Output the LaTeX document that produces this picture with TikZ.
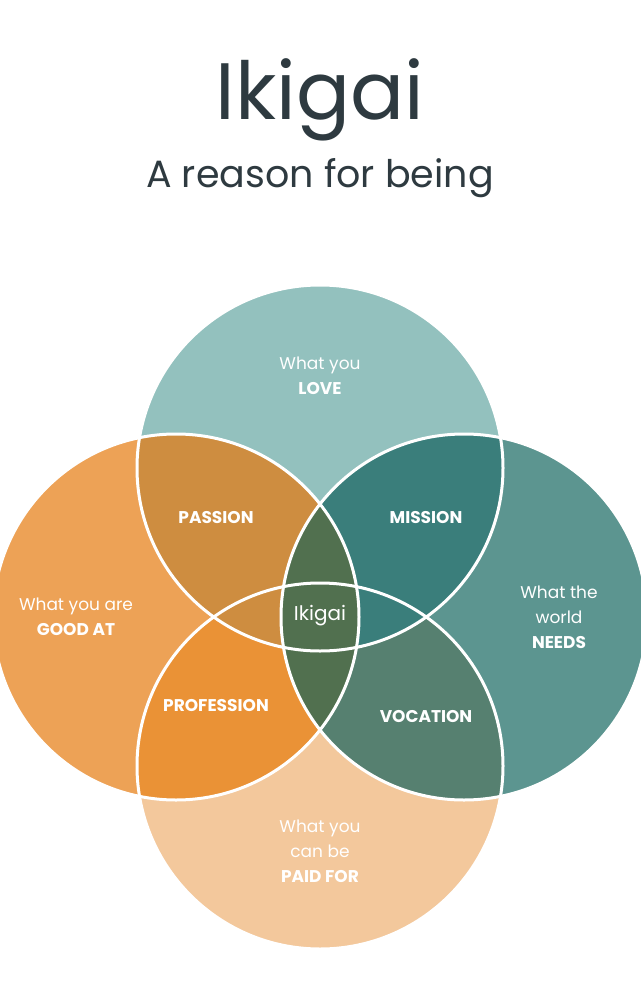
\documentclass[tikz,border=0pt]{standalone}
\usepackage{fontspec}
\setmainfont{Poppins}
\usetikzlibrary{positioning}
\definecolor{loveC}{HTML}{93C1BE}
\definecolor{needsC}{HTML}{5C9590}
\definecolor{goodC}{HTML}{EDA256}
\definecolor{paidC}{HTML}{F3C89C}
\definecolor{passionC}{HTML}{CE8D40}
\definecolor{missionC}{HTML}{3A7E7B}
\definecolor{professionC}{HTML}{EA9236}
\definecolor{vocationC}{HTML}{568070}
\definecolor{coreC}{HTML}{51704F}
\definecolor{titleC}{HTML}{2E3A40}
\tikzset{
  lbl/.style={text=white,align=center,font=\fontsize{17}{25}\selectfont},
  outline/.style={draw=white,line width=3pt}
}
\begin{document}
\begin{tikzpicture}[x=1pt,y=-1pt]
  \useasboundingbox (0,0) rectangle (640,1000);
  % circle centres and radius
  \def\R{183}
  \coordinate (top) at (320,468);
  \coordinate (left) at (176,617);
  \coordinate (right) at (464,617);
  \coordinate (bottom) at (320,766);
  % plain circles
  \fill[loveC] (top) circle[radius=\R];
  \fill[needsC] (right) circle[radius=\R];
  \fill[goodC] (left) circle[radius=\R];
  \fill[paidC] (bottom) circle[radius=\R];
  % pairwise overlaps
  \begin{scope}
    \clip (left) circle[radius=\R];
    \fill[professionC] (bottom) circle[radius=\R];
  \end{scope}
  \begin{scope}
    \clip (right) circle[radius=\R];
    \fill[vocationC] (bottom) circle[radius=\R];
  \end{scope}
  \begin{scope}
    \clip (left) circle[radius=\R];
    \fill[passionC] (top) circle[radius=\R];
  \end{scope}
  \begin{scope}
    \clip (right) circle[radius=\R];
    \fill[missionC] (top) circle[radius=\R];
  \end{scope}
  \begin{scope}
    \clip (right) circle[radius=\R];
    \fill[coreC] (left) circle[radius=\R];
  \end{scope}
  % white outlines
  \foreach \c in {top,left,right,bottom}
    \draw[outline] (\c) circle[radius=\R];
  % titles
  \node[text=titleC,font=\fontsize{80}{86}\selectfont] (title) at (320,100) {Ikigai};
  \node[text=titleC,font=\fontsize{38}{44}\selectfont] (subtitle) at (320,178) {A reason for being};
  % labels
  \node[lbl] (love) at (320,376) {What you\\\textbf{LOVE}};
  \node[lbl] (good) at (76,617) {What you are\\\textbf{GOOD AT}};
  \node[lbl] (needs) at (559,617) {What the\\world\\\textbf{NEEDS}};
  \node[lbl] (paid) at (320,851) {What you\\can be\\\textbf{PAID FOR}};
  \node[lbl] (passion) at (216,518) {\textbf{PASSION}};
  \node[lbl] (mission) at (426,518) {\textbf{MISSION}};
  \node[lbl] (profession) at (216,705) {\textbf{PROFESSION}};
  \node[lbl] (vocation) at (426,716) {\textbf{VOCATION}};
  \node[lbl,font=\fontsize{20}{24}\selectfont] (ikigai) at (320,616) {Ikigai};
\end{tikzpicture}
\end{document}
